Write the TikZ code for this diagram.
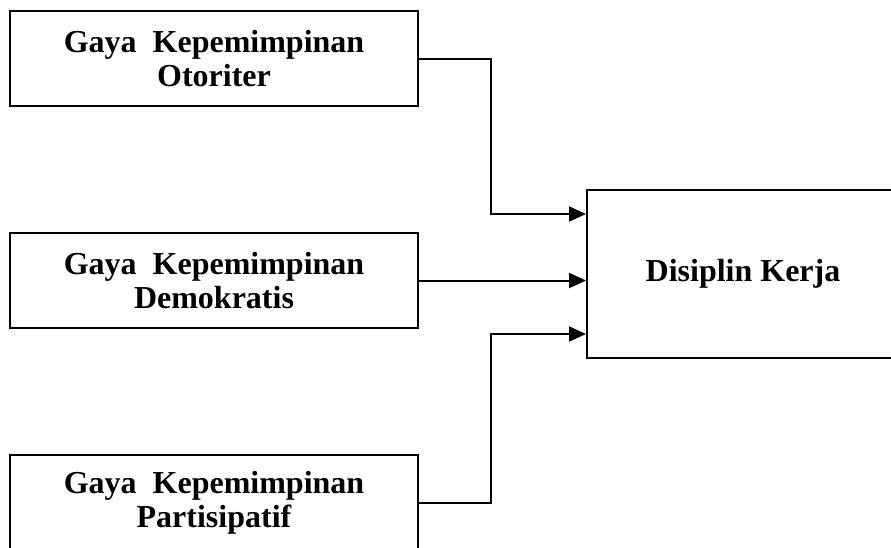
\documentclass[tikz,border=0pt]{standalone}
\usepackage{fontspec}
\setmainfont{Liberation Serif}
\usetikzlibrary{arrows.meta, positioning, calc}

\begin{document}
\begin{tikzpicture}[
    x=1pt, y=1pt,
    node distance=125pt and 168pt,
    >={Triangle[length=17pt, width=15pt]},
    font=\fontsize{32}{34}\selectfont\bfseries,
    base/.style={draw, align=center, line width=2pt, inner sep=0pt},
    factor/.style={base, minimum width=408pt, minimum height=95pt},
    result/.style={base, minimum width=312pt, minimum height=168pt},
    arrow/.style={->, line width=2pt}
  ]
    \useasboundingbox (0,0) rectangle (891,-547);
    \node[factor] (otoriter) at (214,-58.5) {Gaya\ \ Kepemimpinan\\Otoriter};
    \node[factor, below=of otoriter] (demokratis) {Gaya\ \ Kepemimpinan\\Demokratis};
    \node[factor, below=of demokratis] (partisipatif) {Gaya\ \ Kepemimpinan\\Partisipatif};
    \node[result, anchor=west] (kerja) at (586,-274) {Disiplin Kerja};
    \coordinate (inA) at ($(kerja.west)+(0,60)$);
    \coordinate (inC) at ($(kerja.west)+(0,-60)$);
    \draw[arrow] (otoriter.east) -- ++(72,0) |- (inA);
    \draw[arrow] (demokratis.east) -- (demokratis.east -| kerja.west);
    \draw[arrow] (partisipatif.east) -- ++(72,0) |- (inC);
  \end{tikzpicture}
\end{document}
